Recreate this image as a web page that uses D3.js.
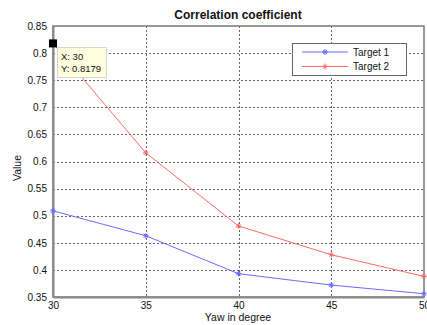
<html>
  <head>
    <script src="https://d3js.org/d3.v7.min.js"></script>
    <style>
      body{ margin:0; background:#fff; }
    </style>
  </head>
  <body>
    <svg width="427" height="325"></svg>
    <script>
    // data
    var yaw = [30, 35, 40, 45, 50];
    var target1 = [0.509, 0.463, 0.393, 0.372, 0.356];
    var target2 = [0.8179, 0.616, 0.481, 0.428, 0.388];
    var seriesNames = ["Target 1", "Target 2"];
    var seriesColors = ["#6a6aff", "#ff6a6a"];
    var yTicks = [0.35, 0.4, 0.45, 0.5, 0.55, 0.6, 0.65, 0.7, 0.75, 0.8, 0.85];
    var xTicks = [30, 35, 40, 45, 50];

    var svg = d3.select("svg");
    var plotLeft = 53, plotRight = 424, plotTop = 26, plotBottom = 297;
    var x = d3.scaleLinear().domain([30, 50]).range([plotLeft, plotRight]);
    var y = d3.scaleLinear().domain([0.35, 0.85]).range([plotBottom, plotTop]);
    var font = "Liberation Sans, Arial, sans-serif";

    svg.append("rect").attr("width", 427).attr("height", 325).attr("fill", "#fff");

    // grid
    var grid = svg.append("g").attr("stroke", "#666").attr("stroke-width", 1)
      .attr("stroke-dasharray", "2,2").attr("shape-rendering", "crispEdges");
    grid.selectAll("line.gx").data(xTicks.slice(1, -1)).enter().append("line")
      .attr("x1", function(d){ return Math.round(x(d)) + 0.5; })
      .attr("x2", function(d){ return Math.round(x(d)) + 0.5; })
      .attr("y1", plotTop).attr("y2", plotBottom);
    grid.selectAll("line.gy").data(yTicks.slice(1, -1)).enter().append("line")
      .attr("y1", function(d){ return Math.round(y(d)) + 0.5; })
      .attr("y2", function(d){ return Math.round(y(d)) + 0.5; })
      .attr("x1", plotLeft).attr("x2", plotRight);

    // box
    svg.append("rect").attr("x", plotLeft).attr("y", plotTop)
      .attr("width", plotRight - plotLeft).attr("height", plotBottom - plotTop)
      .attr("fill", "none").attr("stroke", "#777").attr("stroke-width", 1.5);

    // axes
    var xAxis = d3.axisBottom(x).tickValues(xTicks).tickSize(0).tickPadding(5);
    var gx = svg.append("g").attr("transform", "translate(0," + plotBottom + ")").call(xAxis);
    var yAxis = d3.axisLeft(y).tickValues(yTicks).tickSize(0).tickPadding(6)
      .tickFormat(function(d){ return String(+d.toFixed(2)); });
    var gy = svg.append("g").attr("transform", "translate(" + plotLeft + ",0)").call(yAxis);
    [gx, gy].forEach(function(g){
      g.select(".domain").attr("stroke", "#888").attr("stroke-width", 2);
      g.selectAll("text").attr("font-family", font).attr("font-size", 10).attr("fill", "#111");
    });

    // series
    var series = [target1, target2];
    var line = d3.line().x(function(d, i){ return x(yaw[i]); }).y(function(d){ return y(d); });
    series.forEach(function(s, k){
      svg.append("path").datum(s).attr("d", line)
        .attr("fill", "none").attr("stroke", seriesColors[k]).attr("stroke-width", 1);
      var mk = svg.append("g").attr("stroke", seriesColors[k]).attr("stroke-width", 1);
      s.forEach(function(v, i){
        var cx = x(yaw[i]), cy = y(v), r = 2.8;
        mk.append("path").attr("d",
          "M" + (cx - r) + "," + cy + "H" + (cx + r) +
          "M" + cx + "," + (cy - r) + "V" + (cy + r) +
          "M" + (cx - 2) + "," + (cy - 2) + "L" + (cx + 2) + "," + (cy + 2) +
          "M" + (cx - 2) + "," + (cy + 2) + "L" + (cx + 2) + "," + (cy - 2));
      });
    });

    // legend
    var lg = svg.append("g");
    lg.append("rect").attr("x", 292.5).attr("y", 43.5).attr("width", 114).attr("height", 32)
      .attr("fill", "#fff").attr("stroke", "#666").attr("stroke-width", 1);
    seriesNames.forEach(function(n, k){
      var ly = 52 + k * 14.5;
      lg.append("line").attr("x1", 302).attr("x2", 348).attr("y1", ly).attr("y2", ly)
        .attr("stroke", seriesColors[k]).attr("stroke-width", 1);
      lg.append("path").attr("d",
        "M322,"+ly+"H328M325,"+(ly-3)+"V"+(ly+3)+"M323,"+(ly-2)+"L327,"+(ly+2)+"M323,"+(ly+2)+"L327,"+(ly-2))
        .attr("stroke", seriesColors[k]).attr("stroke-width", 1);
      lg.append("text").attr("x", 353).attr("y", ly + 3.5).text(n)
        .attr("font-family", font).attr("font-size", 10).attr("fill", "#111");
    });

    // data tip
    var tx = x(yaw[0]), ty = y(target2[0]);
    svg.append("rect").attr("x", tx - 4).attr("y", ty - 4).attr("width", 8).attr("height", 8).attr("fill", "#000");
    var tip = svg.append("g");
    tip.append("rect").attr("x", 57.5).attr("y", 47.5).attr("width", 49).attr("height", 30)
      .attr("fill", "#ffffe1").attr("stroke", "#d8d8c0");
    tip.append("text").attr("x", 61).attr("y", 60).text("X: " + yaw[0])
      .attr("font-family", font).attr("font-size", 9.5).attr("fill", "#111");
    tip.append("text").attr("x", 61).attr("y", 72).text("Y: " + target2[0])
      .attr("font-family", font).attr("font-size", 9.5).attr("fill", "#111");

    // titles
    svg.append("text").attr("x", 238).attr("y", 19).attr("text-anchor", "middle")
      .text("Correlation coefficient").attr("font-family", font).attr("font-weight", "bold")
      .attr("font-size", 12).attr("fill", "#111");
    svg.append("text").attr("x", 238).attr("y", 321).attr("text-anchor", "middle")
      .text("Yaw in degree").attr("font-family", font).attr("font-size", 10.5).attr("fill", "#111");
    svg.append("text").attr("transform", "translate(21,168) rotate(-90)").attr("text-anchor", "middle")
      .text("Value").attr("font-family", font).attr("font-size", 10.5).attr("fill", "#111");
    </script>
  </body>
</html>
